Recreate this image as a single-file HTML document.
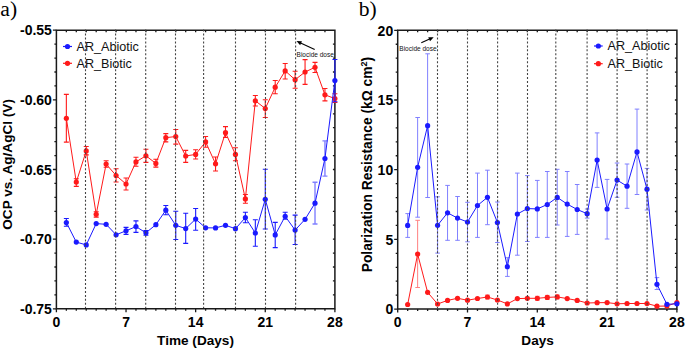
<!DOCTYPE html>
<html><head><meta charset="utf-8"><title>OCP and Polarization Resistance</title>
<style>
html,body{margin:0;padding:0;background:#fff;}
body{width:685px;height:349px;overflow:hidden;}
svg{display:block;}
text{font-family:"Liberation Sans",sans-serif;fill:#000;}
.tl{font-size:14px;font-weight:bold;}
.tt{font-size:13.6px;font-weight:bold;}
.tp{font-size:13.8px;font-weight:bold;}
.lg{font-size:12.6px;fill:#111;}
.an{font-size:6.5px;fill:#111;}
.pl{font-family:"Liberation Serif",serif;font-size:21.6px;}
</style></head><body>
<svg width="685" height="349" viewBox="0 0 685 349">
<rect width="685" height="349" fill="#fff"/>
<text x="0.3" y="16.3" class="pl">a)</text>
<text x="358.7" y="16.3" class="pl">b)</text>
<path d="M56.4 30.2V308.8H334.9V30.2Z" stroke="#1a1a1a" stroke-width="1.5" fill="none"/>
<path d="M52.9 30.2H56.4M54.4 44.13H56.4M334.9 44.13H332.9M54.4 58.06H56.4M334.9 58.06H332.9M54.4 71.99H56.4M334.9 71.99H332.9M54.4 85.92H56.4M334.9 85.92H332.9M52.9 99.85H56.4M334.9 99.85H332.9M54.4 113.78H56.4M334.9 113.78H332.9M54.4 127.71H56.4M334.9 127.71H332.9M54.4 141.64H56.4M334.9 141.64H332.9M54.4 155.57H56.4M334.9 155.57H332.9M52.9 169.5H56.4M334.9 169.5H332.9M54.4 183.43H56.4M334.9 183.43H332.9M54.4 197.36H56.4M334.9 197.36H332.9M54.4 211.29H56.4M334.9 211.29H332.9M54.4 225.22H56.4M334.9 225.22H332.9M52.9 239.15H56.4M334.9 239.15H332.9M54.4 253.08H56.4M334.9 253.08H332.9M54.4 267.01H56.4M334.9 267.01H332.9M54.4 280.94H56.4M334.9 280.94H332.9M54.4 294.87H56.4M334.9 294.87H332.9M52.9 308.8H56.4M56.4 308.8V312.3M66.35 308.8V310.8M66.35 30.2V32.2M76.29 308.8V310.8M76.29 30.2V32.2M86.24 308.8V310.8M86.24 30.2V32.2M96.19 308.8V310.8M96.19 30.2V32.2M106.13 308.8V310.8M106.13 30.2V32.2M116.08 308.8V310.8M116.08 30.2V32.2M126.03 308.8V312.3M126.03 30.2V32.2M135.97 308.8V310.8M135.97 30.2V32.2M145.92 308.8V310.8M145.92 30.2V32.2M155.86 308.8V310.8M155.86 30.2V32.2M165.81 308.8V310.8M165.81 30.2V32.2M175.76 308.8V310.8M175.76 30.2V32.2M185.7 308.8V310.8M185.7 30.2V32.2M195.65 308.8V312.3M195.65 30.2V32.2M205.6 308.8V310.8M205.6 30.2V32.2M215.54 308.8V310.8M215.54 30.2V32.2M225.49 308.8V310.8M225.49 30.2V32.2M235.44 308.8V310.8M235.44 30.2V32.2M245.38 308.8V310.8M245.38 30.2V32.2M255.33 308.8V310.8M255.33 30.2V32.2M265.27 308.8V312.3M265.27 30.2V32.2M275.22 308.8V310.8M275.22 30.2V32.2M285.17 308.8V310.8M285.17 30.2V32.2M295.11 308.8V310.8M295.11 30.2V32.2M305.06 308.8V310.8M305.06 30.2V32.2M315.01 308.8V310.8M315.01 30.2V32.2M324.95 308.8V310.8M324.95 30.2V32.2M334.9 308.8V312.3" stroke="#1a1a1a" stroke-width="1.3" fill="none"/>
<text x="51.9" y="35.45" text-anchor="end" class="tl">-0.55</text>
<text x="51.9" y="105.1" text-anchor="end" class="tl">-0.60</text>
<text x="51.9" y="174.75" text-anchor="end" class="tl">-0.65</text>
<text x="51.9" y="244.4" text-anchor="end" class="tl">-0.70</text>
<text x="51.9" y="314.05" text-anchor="end" class="tl">-0.75</text>
<text x="56.4" y="326.6" text-anchor="middle" class="tl">0</text>
<text x="126.03" y="326.6" text-anchor="middle" class="tl">7</text>
<text x="195.65" y="326.6" text-anchor="middle" class="tl">14</text>
<text x="265.27" y="326.6" text-anchor="middle" class="tl">21</text>
<text x="334.9" y="326.6" text-anchor="middle" class="tl">28</text>
<path d="M63 46.5H72" stroke="#1a1aff" stroke-width="1.2"/>
<circle cx="67.5" cy="46.5" r="2.6" fill="#1a1aff"/>
<path d="M63 63.3H72" stroke="#ff1a1a" stroke-width="1.2"/>
<circle cx="67.5" cy="63.3" r="2.6" fill="#ff1a1a"/>
<text x="76.5" y="50.6" class="lg">AR_Abiotic</text>
<text x="76.5" y="67.8" class="lg">AR_Biotic</text>
<path d="M66.35 94.4V142.1M63.85 94.4H68.85M63.85 142.1H68.85" stroke="#ff1a1a" stroke-width="1.1" fill="none"/>
<path d="M76.29 178.8V186.4M73.79 178.8H78.79M73.79 186.4H78.79" stroke="#ff1a1a" stroke-width="1.1" fill="none"/>
<path d="M86.24 146.5V154.9M83.74 146.5H88.74M83.74 154.9H88.74" stroke="#ff1a1a" stroke-width="1.1" fill="none"/>
<path d="M96.19 211.7V217.1M93.69 211.7H98.69M93.69 217.1H98.69" stroke="#ff1a1a" stroke-width="1.1" fill="none"/>
<path d="M106.13 160.7V167.3M103.63 160.7H108.63M103.63 167.3H108.63" stroke="#ff1a1a" stroke-width="1.1" fill="none"/>
<path d="M116.08 168.7V182M113.58 168.7H118.58M113.58 182H118.58" stroke="#ff1a1a" stroke-width="1.1" fill="none"/>
<path d="M126.03 178V190M123.53 178H128.53M123.53 190H128.53" stroke="#ff1a1a" stroke-width="1.1" fill="none"/>
<path d="M135.97 157.3V166.3M133.47 157.3H138.47M133.47 166.3H138.47" stroke="#ff1a1a" stroke-width="1.1" fill="none"/>
<path d="M145.92 149.2V162.4M143.42 149.2H148.42M143.42 162.4H148.42" stroke="#ff1a1a" stroke-width="1.1" fill="none"/>
<path d="M155.86 159.2V167.1M153.36 159.2H158.36M153.36 167.1H158.36" stroke="#ff1a1a" stroke-width="1.1" fill="none"/>
<path d="M165.81 133.6V141.9M163.31 133.6H168.31M163.31 141.9H168.31" stroke="#ff1a1a" stroke-width="1.1" fill="none"/>
<path d="M175.76 129.5V144.1M173.26 129.5H178.26M173.26 144.1H178.26" stroke="#ff1a1a" stroke-width="1.1" fill="none"/>
<path d="M185.7 150.4V162.4M183.2 150.4H188.2M183.2 162.4H188.2" stroke="#ff1a1a" stroke-width="1.1" fill="none"/>
<path d="M195.65 149.7V159M193.15 149.7H198.15M193.15 159H198.15" stroke="#ff1a1a" stroke-width="1.1" fill="none"/>
<path d="M205.6 136.5V147.3M203.1 136.5H208.1M203.1 147.3H208.1" stroke="#ff1a1a" stroke-width="1.1" fill="none"/>
<path d="M215.54 157V171M213.04 157H218.04M213.04 171H218.04" stroke="#ff1a1a" stroke-width="1.1" fill="none"/>
<path d="M225.49 126.6V137.5M222.99 126.6H227.99M222.99 137.5H227.99" stroke="#ff1a1a" stroke-width="1.1" fill="none"/>
<path d="M235.44 147.8V160.8M232.94 147.8H237.94M232.94 160.8H237.94" stroke="#ff1a1a" stroke-width="1.1" fill="none"/>
<path d="M245.38 194.5V203.3M242.88 194.5H247.88M242.88 203.3H247.88" stroke="#ff1a1a" stroke-width="1.1" fill="none"/>
<path d="M255.33 95.5V106M252.83 95.5H257.83M252.83 106H257.83" stroke="#ff1a1a" stroke-width="1.1" fill="none"/>
<path d="M265.27 99.8V117.5M262.77 99.8H267.77M262.77 117.5H267.77" stroke="#ff1a1a" stroke-width="1.1" fill="none"/>
<path d="M275.22 80.5V93.7M272.72 80.5H277.72M272.72 93.7H277.72" stroke="#ff1a1a" stroke-width="1.1" fill="none"/>
<path d="M285.17 63.5V79M282.67 63.5H287.67M282.67 79H287.67" stroke="#ff1a1a" stroke-width="1.1" fill="none"/>
<path d="M295.11 71.2V88.2M292.61 71.2H297.61M292.61 88.2H297.61" stroke="#ff1a1a" stroke-width="1.1" fill="none"/>
<path d="M305.06 59.6V84.4M302.56 59.6H307.56M302.56 84.4H307.56" stroke="#ff1a1a" stroke-width="1.1" fill="none"/>
<path d="M315.01 62.4V72.5M312.51 62.4H317.51M312.51 72.5H317.51" stroke="#ff1a1a" stroke-width="1.1" fill="none"/>
<path d="M324.95 88.5V100.9M322.45 88.5H327.45M322.45 100.9H327.45" stroke="#ff1a1a" stroke-width="1.1" fill="none"/>
<path d="M334.9 93.8V102.4M332.4 93.8H337.4M332.4 102.4H337.4" stroke="#ff1a1a" stroke-width="1.1" fill="none"/>
<polyline points="66.35,118.3 76.29,182.1 86.24,150.9 96.19,214.3 106.13,164.1 116.08,175.5 126.03,184 135.97,161.9 145.92,155.8 155.86,163.4 165.81,137.7 175.76,136.5 185.7,156 195.65,154.4 205.6,141.9 215.54,163.8 225.49,132.7 235.44,154.4 245.38,198.9 255.33,100.8 265.27,108.5 275.22,87.2 285.17,70.9 295.11,79.7 305.06,72 315.01,67.3 324.95,94.8 334.9,98.6" stroke="#ff1a1a" stroke-width="1.0" fill="none" stroke-linejoin="round"/>
<circle cx="66.35" cy="118.3" r="2.6" fill="#ff1a1a"/>
<circle cx="76.29" cy="182.1" r="2.6" fill="#ff1a1a"/>
<circle cx="86.24" cy="150.9" r="2.6" fill="#ff1a1a"/>
<circle cx="96.19" cy="214.3" r="2.6" fill="#ff1a1a"/>
<circle cx="106.13" cy="164.1" r="2.6" fill="#ff1a1a"/>
<circle cx="116.08" cy="175.5" r="2.6" fill="#ff1a1a"/>
<circle cx="126.03" cy="184" r="2.6" fill="#ff1a1a"/>
<circle cx="135.97" cy="161.9" r="2.6" fill="#ff1a1a"/>
<circle cx="145.92" cy="155.8" r="2.6" fill="#ff1a1a"/>
<circle cx="155.86" cy="163.4" r="2.6" fill="#ff1a1a"/>
<circle cx="165.81" cy="137.7" r="2.6" fill="#ff1a1a"/>
<circle cx="175.76" cy="136.5" r="2.6" fill="#ff1a1a"/>
<circle cx="185.7" cy="156" r="2.6" fill="#ff1a1a"/>
<circle cx="195.65" cy="154.4" r="2.6" fill="#ff1a1a"/>
<circle cx="205.6" cy="141.9" r="2.6" fill="#ff1a1a"/>
<circle cx="215.54" cy="163.8" r="2.6" fill="#ff1a1a"/>
<circle cx="225.49" cy="132.7" r="2.6" fill="#ff1a1a"/>
<circle cx="235.44" cy="154.4" r="2.6" fill="#ff1a1a"/>
<circle cx="245.38" cy="198.9" r="2.6" fill="#ff1a1a"/>
<circle cx="255.33" cy="100.8" r="2.6" fill="#ff1a1a"/>
<circle cx="265.27" cy="108.5" r="2.6" fill="#ff1a1a"/>
<circle cx="275.22" cy="87.2" r="2.6" fill="#ff1a1a"/>
<circle cx="285.17" cy="70.9" r="2.6" fill="#ff1a1a"/>
<circle cx="295.11" cy="79.7" r="2.6" fill="#ff1a1a"/>
<circle cx="305.06" cy="72" r="2.6" fill="#ff1a1a"/>
<circle cx="315.01" cy="67.3" r="2.6" fill="#ff1a1a"/>
<circle cx="324.95" cy="94.8" r="2.6" fill="#ff1a1a"/>
<circle cx="334.9" cy="98.6" r="2.6" fill="#ff1a1a"/>
<path d="M66.35 218.5V226.2M63.85 218.5H68.85M63.85 226.2H68.85" stroke="#1a1aff" stroke-width="1.1" fill="none"/>
<path d="M126.03 227.4V234.4M123.53 227.4H128.53M123.53 234.4H128.53" stroke="#1a1aff" stroke-width="1.1" fill="none"/>
<path d="M135.97 220.9V232.4M133.47 220.9H138.47M133.47 232.4H138.47" stroke="#1a1aff" stroke-width="1.1" fill="none"/>
<path d="M145.92 230.5V235.2M143.42 230.5H148.42M143.42 235.2H148.42" stroke="#1a1aff" stroke-width="1.1" fill="none"/>
<path d="M165.81 205.5V214.8M163.31 205.5H168.31M163.31 214.8H168.31" stroke="#1a1aff" stroke-width="1.1" fill="none"/>
<path d="M175.76 211.2V239.5M173.26 211.2H178.26M173.26 239.5H178.26" stroke="#1a1aff" stroke-width="1.1" fill="none"/>
<path d="M185.7 213.2V243.4M183.2 213.2H188.2M183.2 243.4H188.2" stroke="#1a1aff" stroke-width="1.1" fill="none"/>
<path d="M195.65 208.5V230.3M193.15 208.5H198.15M193.15 230.3H198.15" stroke="#1a1aff" stroke-width="1.1" fill="none"/>
<path d="M245.38 212.3V222.8M242.88 212.3H247.88M242.88 222.8H247.88" stroke="#1a1aff" stroke-width="1.1" fill="none"/>
<path d="M255.33 219.7V246.3M252.83 219.7H257.83M252.83 246.3H257.83" stroke="#1a1aff" stroke-width="1.1" fill="none"/>
<path d="M265.27 169.3V229M262.77 169.3H267.77M262.77 229H267.77" stroke="#1a1aff" stroke-width="1.1" fill="none"/>
<path d="M275.22 222.4V247.6M272.72 222.4H277.72M272.72 247.6H277.72" stroke="#1a1aff" stroke-width="1.1" fill="none"/>
<path d="M285.17 212.3V219.3M282.67 212.3H287.67M282.67 219.3H287.67" stroke="#1a1aff" stroke-width="1.1" fill="none"/>
<path d="M295.11 215.1V244.5M292.61 215.1H297.61M292.61 244.5H297.61" stroke="#1a1aff" stroke-width="1.1" fill="none"/>
<path d="M315.01 182.2V224M312.51 182.2H317.51M312.51 224H317.51" stroke="#8080ff" stroke-width="1.4" fill="none"/>
<path d="M324.95 140.9V176.1M322.45 140.9H327.45M322.45 176.1H327.45" stroke="#8080ff" stroke-width="1.4" fill="none"/>
<path d="M334.9 59.5V101.7M332.4 59.5H337.4M332.4 101.7H337.4" stroke="#1a1aff" stroke-width="1.1" fill="none"/>
<polyline points="66.35,222.5 76.29,242.1 86.24,244.9 96.19,223.6 106.13,224.3 116.08,234.8 126.03,230.8 135.97,226.6 145.92,232.8 155.86,224.7 165.81,210.2 175.76,225.3 185.7,228.6 195.65,219.1 205.6,227.8 215.54,227.9 225.49,225.3 235.44,228.7 245.38,217.6 255.33,233 265.27,199.3 275.22,234.9 285.17,216.3 295.11,230.1 305.06,219.3 315.01,203.2 324.95,158.5 334.9,80.6" stroke="#1a1aff" stroke-width="1.0" fill="none" stroke-linejoin="round"/>
<circle cx="66.35" cy="222.5" r="2.6" fill="#1a1aff"/>
<circle cx="76.29" cy="242.1" r="2.6" fill="#1a1aff"/>
<circle cx="86.24" cy="244.9" r="2.6" fill="#1a1aff"/>
<circle cx="96.19" cy="223.6" r="2.6" fill="#1a1aff"/>
<circle cx="106.13" cy="224.3" r="2.6" fill="#1a1aff"/>
<circle cx="116.08" cy="234.8" r="2.6" fill="#1a1aff"/>
<circle cx="126.03" cy="230.8" r="2.6" fill="#1a1aff"/>
<circle cx="135.97" cy="226.6" r="2.6" fill="#1a1aff"/>
<circle cx="145.92" cy="232.8" r="2.6" fill="#1a1aff"/>
<circle cx="155.86" cy="224.7" r="2.6" fill="#1a1aff"/>
<circle cx="165.81" cy="210.2" r="2.6" fill="#1a1aff"/>
<circle cx="175.76" cy="225.3" r="2.6" fill="#1a1aff"/>
<circle cx="185.7" cy="228.6" r="2.6" fill="#1a1aff"/>
<circle cx="195.65" cy="219.1" r="2.6" fill="#1a1aff"/>
<circle cx="205.6" cy="227.8" r="2.6" fill="#1a1aff"/>
<circle cx="215.54" cy="227.9" r="2.6" fill="#1a1aff"/>
<circle cx="225.49" cy="225.3" r="2.6" fill="#1a1aff"/>
<circle cx="235.44" cy="228.7" r="2.6" fill="#1a1aff"/>
<circle cx="245.38" cy="217.6" r="2.6" fill="#1a1aff"/>
<circle cx="255.33" cy="233" r="2.6" fill="#1a1aff"/>
<circle cx="265.27" cy="199.3" r="2.6" fill="#1a1aff"/>
<circle cx="275.22" cy="234.9" r="2.6" fill="#1a1aff"/>
<circle cx="285.17" cy="216.3" r="2.6" fill="#1a1aff"/>
<circle cx="295.11" cy="230.1" r="2.6" fill="#1a1aff"/>
<circle cx="305.06" cy="219.3" r="2.6" fill="#1a1aff"/>
<circle cx="315.01" cy="203.2" r="2.6" fill="#1a1aff"/>
<circle cx="324.95" cy="158.5" r="2.6" fill="#1a1aff"/>
<circle cx="334.9" cy="80.6" r="2.6" fill="#1a1aff"/>
<line x1="85.5" y1="29.56" x2="85.5" y2="308.1" stroke="#444" stroke-width="1.1" stroke-dasharray="2 1.96"/>
<line x1="115.6" y1="29.56" x2="115.6" y2="308.1" stroke="#444" stroke-width="1.1" stroke-dasharray="2 1.96"/>
<line x1="145.7" y1="29.56" x2="145.7" y2="308.1" stroke="#444" stroke-width="1.1" stroke-dasharray="2 1.96"/>
<line x1="175.5" y1="29.56" x2="175.5" y2="308.1" stroke="#444" stroke-width="1.1" stroke-dasharray="2 1.96"/>
<line x1="203.6" y1="29.56" x2="203.6" y2="308.1" stroke="#444" stroke-width="1.1" stroke-dasharray="2 1.96"/>
<line x1="235.5" y1="29.56" x2="235.5" y2="308.1" stroke="#444" stroke-width="1.1" stroke-dasharray="2 1.96"/>
<line x1="265.5" y1="29.56" x2="265.5" y2="308.1" stroke="#444" stroke-width="1.1" stroke-dasharray="2 1.96"/>
<line x1="295.6" y1="29.56" x2="295.6" y2="308.1" stroke="#444" stroke-width="1.1" stroke-dasharray="2 1.96"/>
<text x="296.6" y="57.0" class="an">Biocide dose</text>
<path d="M314.7 49.4L300.59 42.97" stroke="#000" stroke-width="1.1"/>
<path d="M296.5 41.1L301.96 41.17L300.14 45.18Z" fill="#000"/>
<text transform="translate(11.9 164.4) rotate(-90)" text-anchor="middle" class="tt">OCP vs. Ag/AgCl (V)</text>
<text x="195.5" y="344.5" text-anchor="middle" class="tt">Time (Days)</text>
<path d="M397.7 30.3V309.1H676.9V30.3Z" stroke="#1a1a1a" stroke-width="1.5" fill="none"/>
<path d="M394.2 30.3H397.7M395.7 44.24H397.7M676.9 44.24H674.9M395.7 58.18H397.7M676.9 58.18H674.9M395.7 72.12H397.7M676.9 72.12H674.9M395.7 86.06H397.7M676.9 86.06H674.9M394.2 100H397.7M676.9 100H674.9M395.7 113.94H397.7M676.9 113.94H674.9M395.7 127.88H397.7M676.9 127.88H674.9M395.7 141.82H397.7M676.9 141.82H674.9M395.7 155.76H397.7M676.9 155.76H674.9M394.2 169.7H397.7M676.9 169.7H674.9M395.7 183.64H397.7M676.9 183.64H674.9M395.7 197.58H397.7M676.9 197.58H674.9M395.7 211.52H397.7M676.9 211.52H674.9M395.7 225.46H397.7M676.9 225.46H674.9M394.2 239.4H397.7M676.9 239.4H674.9M395.7 253.34H397.7M676.9 253.34H674.9M395.7 267.28H397.7M676.9 267.28H674.9M395.7 281.22H397.7M676.9 281.22H674.9M395.7 295.16H397.7M676.9 295.16H674.9M394.2 309.1H397.7M397.7 309.1V312.6M407.67 309.1V311.1M407.67 30.3V32.3M417.64 309.1V311.1M417.64 30.3V32.3M427.61 309.1V311.1M427.61 30.3V32.3M437.59 309.1V311.1M437.59 30.3V32.3M447.56 309.1V311.1M447.56 30.3V32.3M457.53 309.1V311.1M457.53 30.3V32.3M467.5 309.1V312.6M467.5 30.3V32.3M477.47 309.1V311.1M477.47 30.3V32.3M487.44 309.1V311.1M487.44 30.3V32.3M497.41 309.1V311.1M497.41 30.3V32.3M507.39 309.1V311.1M507.39 30.3V32.3M517.36 309.1V311.1M517.36 30.3V32.3M527.33 309.1V311.1M527.33 30.3V32.3M537.3 309.1V312.6M537.3 30.3V32.3M547.27 309.1V311.1M547.27 30.3V32.3M557.24 309.1V311.1M557.24 30.3V32.3M567.21 309.1V311.1M567.21 30.3V32.3M577.19 309.1V311.1M577.19 30.3V32.3M587.16 309.1V311.1M587.16 30.3V32.3M597.13 309.1V311.1M597.13 30.3V32.3M607.1 309.1V312.6M607.1 30.3V32.3M617.07 309.1V311.1M617.07 30.3V32.3M627.04 309.1V311.1M627.04 30.3V32.3M637.01 309.1V311.1M637.01 30.3V32.3M646.99 309.1V311.1M646.99 30.3V32.3M656.96 309.1V311.1M656.96 30.3V32.3M666.93 309.1V311.1M666.93 30.3V32.3M676.9 309.1V312.6" stroke="#1a1a1a" stroke-width="1.3" fill="none"/>
<text x="393.2" y="35.55" text-anchor="end" class="tl">20</text>
<text x="393.2" y="105.25" text-anchor="end" class="tl">15</text>
<text x="393.2" y="174.95" text-anchor="end" class="tl">10</text>
<text x="393.2" y="244.65" text-anchor="end" class="tl">5</text>
<text x="393.2" y="314.35" text-anchor="end" class="tl">0</text>
<text x="397.7" y="326.7" text-anchor="middle" class="tl">0</text>
<text x="467.5" y="326.7" text-anchor="middle" class="tl">7</text>
<text x="537.3" y="326.7" text-anchor="middle" class="tl">14</text>
<text x="607.1" y="326.7" text-anchor="middle" class="tl">21</text>
<text x="676.9" y="326.7" text-anchor="middle" class="tl">28</text>
<path d="M594 46H602.7" stroke="#1a1aff" stroke-width="1.2"/>
<circle cx="598.35" cy="46" r="2.6" fill="#1a1aff"/>
<path d="M594 63.7H602.7" stroke="#ff1a1a" stroke-width="1.2"/>
<circle cx="598.35" cy="63.7" r="2.6" fill="#ff1a1a"/>
<text x="607.5" y="50.3" class="lg">AR_Abiotic</text>
<text x="607.5" y="68" class="lg">AR_Biotic</text>
<path d="M417.64 220.3V287.5M415.34 220.3H419.94M415.34 287.5H419.94" stroke="#ff8080" stroke-width="1.0" fill="none"/>
<path d="M487.44 295V299M485.14 295H489.74M485.14 299H489.74" stroke="#ff8080" stroke-width="1.0" fill="none"/>
<path d="M537.3 296.3V300.3M535 296.3H539.6M535 300.3H539.6" stroke="#ff8080" stroke-width="1.0" fill="none"/>
<path d="M547.27 295.4V299.4M544.97 295.4H549.57M544.97 299.4H549.57" stroke="#ff8080" stroke-width="1.0" fill="none"/>
<path d="M557.24 294.9V298.9M554.94 294.9H559.54M554.94 298.9H559.54" stroke="#ff8080" stroke-width="1.0" fill="none"/>
<polyline points="407.67,304.5 417.64,254.1 427.61,292.3 437.59,304 447.56,300.4 457.53,298.3 467.5,300.2 477.47,298.5 487.44,297 497.41,300 507.39,303.9 517.36,298.6 527.33,298.3 537.3,298.3 547.27,297.4 557.24,296.9 567.21,298.6 577.19,300.4 587.16,303 597.13,302.7 607.1,302.6 617.07,303.8 627.04,303.5 637.01,303.5 646.99,303.5 656.96,306.2 666.93,306 676.9,302.6" stroke="#ff1a1a" stroke-width="1.0" fill="none" stroke-linejoin="round"/>
<circle cx="407.67" cy="304.5" r="2.6" fill="#ff1a1a"/>
<circle cx="417.64" cy="254.1" r="2.6" fill="#ff1a1a"/>
<circle cx="427.61" cy="292.3" r="2.6" fill="#ff1a1a"/>
<circle cx="437.59" cy="304" r="2.6" fill="#ff1a1a"/>
<circle cx="447.56" cy="300.4" r="2.6" fill="#ff1a1a"/>
<circle cx="457.53" cy="298.3" r="2.6" fill="#ff1a1a"/>
<circle cx="467.5" cy="300.2" r="2.6" fill="#ff1a1a"/>
<circle cx="477.47" cy="298.5" r="2.6" fill="#ff1a1a"/>
<circle cx="487.44" cy="297" r="2.6" fill="#ff1a1a"/>
<circle cx="497.41" cy="300" r="2.6" fill="#ff1a1a"/>
<circle cx="507.39" cy="303.9" r="2.6" fill="#ff1a1a"/>
<circle cx="517.36" cy="298.6" r="2.6" fill="#ff1a1a"/>
<circle cx="527.33" cy="298.3" r="2.6" fill="#ff1a1a"/>
<circle cx="537.3" cy="298.3" r="2.6" fill="#ff1a1a"/>
<circle cx="547.27" cy="297.4" r="2.6" fill="#ff1a1a"/>
<circle cx="557.24" cy="296.9" r="2.6" fill="#ff1a1a"/>
<circle cx="567.21" cy="298.6" r="2.6" fill="#ff1a1a"/>
<circle cx="577.19" cy="300.4" r="2.6" fill="#ff1a1a"/>
<circle cx="587.16" cy="303" r="2.6" fill="#ff1a1a"/>
<circle cx="597.13" cy="302.7" r="2.6" fill="#ff1a1a"/>
<circle cx="607.1" cy="302.6" r="2.6" fill="#ff1a1a"/>
<circle cx="617.07" cy="303.8" r="2.6" fill="#ff1a1a"/>
<circle cx="627.04" cy="303.5" r="2.6" fill="#ff1a1a"/>
<circle cx="637.01" cy="303.5" r="2.6" fill="#ff1a1a"/>
<circle cx="646.99" cy="303.5" r="2.6" fill="#ff1a1a"/>
<circle cx="656.96" cy="306.2" r="2.6" fill="#ff1a1a"/>
<circle cx="666.93" cy="306" r="2.6" fill="#ff1a1a"/>
<circle cx="676.9" cy="302.6" r="2.6" fill="#ff1a1a"/>
<path d="M407.67 213.6V237.4M405.37 213.6H409.97M405.37 237.4H409.97" stroke="#8080ff" stroke-width="1.0" fill="none"/>
<path d="M417.64 117.5V217.2M415.34 117.5H419.94M415.34 217.2H419.94" stroke="#8080ff" stroke-width="1.0" fill="none"/>
<path d="M427.61 53.8V197.5M425.31 53.8H429.91M425.31 197.5H429.91" stroke="#8080ff" stroke-width="1.0" fill="none"/>
<path d="M437.59 196.8V253.1M435.29 196.8H439.89M435.29 253.1H439.89" stroke="#8080ff" stroke-width="1.0" fill="none"/>
<path d="M447.56 185.4V240.3M445.26 185.4H449.86M445.26 240.3H449.86" stroke="#8080ff" stroke-width="1.0" fill="none"/>
<path d="M457.53 196.5V240.3M455.23 196.5H459.83M455.23 240.3H459.83" stroke="#8080ff" stroke-width="1.0" fill="none"/>
<path d="M467.5 202.3V241.8M465.2 202.3H469.8M465.2 241.8H469.8" stroke="#8080ff" stroke-width="1.0" fill="none"/>
<path d="M477.47 173.1V237.4M475.17 173.1H479.77M475.17 237.4H479.77" stroke="#8080ff" stroke-width="1.0" fill="none"/>
<path d="M487.44 170.2V224.7M485.14 170.2H489.74M485.14 224.7H489.74" stroke="#8080ff" stroke-width="1.0" fill="none"/>
<path d="M497.41 202V242.5M495.11 202H499.71M495.11 242.5H499.71" stroke="#8080ff" stroke-width="1.0" fill="none"/>
<path d="M507.39 257.7V276.4M505.09 257.7H509.69M505.09 276.4H509.69" stroke="#8080ff" stroke-width="1.0" fill="none"/>
<path d="M517.36 173.1V255.2M515.06 173.1H519.66M515.06 255.2H519.66" stroke="#8080ff" stroke-width="1.0" fill="none"/>
<path d="M527.33 175.6V241.5M525.03 175.6H529.63M525.03 241.5H529.63" stroke="#8080ff" stroke-width="1.0" fill="none"/>
<path d="M537.3 180.4V237.4M535 180.4H539.6M535 237.4H539.6" stroke="#8080ff" stroke-width="1.0" fill="none"/>
<path d="M547.27 171.5V237.4M544.97 171.5H549.57M544.97 237.4H549.57" stroke="#8080ff" stroke-width="1.0" fill="none"/>
<path d="M557.24 169.3V225M554.94 169.3H559.54M554.94 225H559.54" stroke="#8080ff" stroke-width="1.0" fill="none"/>
<path d="M567.21 171.5V236.4M564.91 171.5H569.51M564.91 236.4H569.51" stroke="#8080ff" stroke-width="1.0" fill="none"/>
<path d="M577.19 184.5V234.4M574.89 184.5H579.49M574.89 234.4H579.49" stroke="#8080ff" stroke-width="1.0" fill="none"/>
<path d="M587.16 209V218.1M584.86 209H589.46M584.86 218.1H589.46" stroke="#8080ff" stroke-width="1.0" fill="none"/>
<path d="M597.13 132.9V187.4M594.83 132.9H599.43M594.83 187.4H599.43" stroke="#8080ff" stroke-width="1.0" fill="none"/>
<path d="M607.1 179.4V239M604.8 179.4H609.4M604.8 239H609.4" stroke="#8080ff" stroke-width="1.0" fill="none"/>
<path d="M617.07 163V197.3M614.77 163H619.37M614.77 197.3H619.37" stroke="#8080ff" stroke-width="1.0" fill="none"/>
<path d="M627.04 164V208.3M624.74 164H629.34M624.74 208.3H629.34" stroke="#8080ff" stroke-width="1.0" fill="none"/>
<path d="M637.01 109.1V194.5M634.71 109.1H639.31M634.71 194.5H639.31" stroke="#8080ff" stroke-width="1.0" fill="none"/>
<path d="M646.99 168.4V210M644.69 168.4H649.29M644.69 210H649.29" stroke="#8080ff" stroke-width="1.0" fill="none"/>
<path d="M656.96 277.6V289.5M654.66 277.6H659.26M654.66 289.5H659.26" stroke="#8080ff" stroke-width="1.0" fill="none"/>
<polyline points="407.67,225.4 417.64,167.3 427.61,125.7 437.59,225.3 447.56,212.8 457.53,218.1 467.5,222 477.47,205.5 487.44,197.3 497.41,222.5 507.39,266.7 517.36,214 527.33,208.6 537.3,208.9 547.27,204.5 557.24,197.4 567.21,204.1 577.19,209.5 587.16,213.7 597.13,160.1 607.1,209 617.07,180.1 627.04,186.2 637.01,151.9 646.99,189.2 656.96,284.3 666.93,304.3 676.9,303.8" stroke="#1a1aff" stroke-width="1.0" fill="none" stroke-linejoin="round"/>
<circle cx="407.67" cy="225.4" r="2.6" fill="#1a1aff"/>
<circle cx="417.64" cy="167.3" r="2.6" fill="#1a1aff"/>
<circle cx="427.61" cy="125.7" r="2.6" fill="#1a1aff"/>
<circle cx="437.59" cy="225.3" r="2.6" fill="#1a1aff"/>
<circle cx="447.56" cy="212.8" r="2.6" fill="#1a1aff"/>
<circle cx="457.53" cy="218.1" r="2.6" fill="#1a1aff"/>
<circle cx="467.5" cy="222" r="2.6" fill="#1a1aff"/>
<circle cx="477.47" cy="205.5" r="2.6" fill="#1a1aff"/>
<circle cx="487.44" cy="197.3" r="2.6" fill="#1a1aff"/>
<circle cx="497.41" cy="222.5" r="2.6" fill="#1a1aff"/>
<circle cx="507.39" cy="266.7" r="2.6" fill="#1a1aff"/>
<circle cx="517.36" cy="214" r="2.6" fill="#1a1aff"/>
<circle cx="527.33" cy="208.6" r="2.6" fill="#1a1aff"/>
<circle cx="537.3" cy="208.9" r="2.6" fill="#1a1aff"/>
<circle cx="547.27" cy="204.5" r="2.6" fill="#1a1aff"/>
<circle cx="557.24" cy="197.4" r="2.6" fill="#1a1aff"/>
<circle cx="567.21" cy="204.1" r="2.6" fill="#1a1aff"/>
<circle cx="577.19" cy="209.5" r="2.6" fill="#1a1aff"/>
<circle cx="587.16" cy="213.7" r="2.6" fill="#1a1aff"/>
<circle cx="597.13" cy="160.1" r="2.6" fill="#1a1aff"/>
<circle cx="607.1" cy="209" r="2.6" fill="#1a1aff"/>
<circle cx="617.07" cy="180.1" r="2.6" fill="#1a1aff"/>
<circle cx="627.04" cy="186.2" r="2.6" fill="#1a1aff"/>
<circle cx="637.01" cy="151.9" r="2.6" fill="#1a1aff"/>
<circle cx="646.99" cy="189.2" r="2.6" fill="#1a1aff"/>
<circle cx="656.96" cy="284.3" r="2.6" fill="#1a1aff"/>
<circle cx="666.93" cy="304.3" r="2.6" fill="#1a1aff"/>
<circle cx="676.9" cy="303.8" r="2.6" fill="#1a1aff"/>
<line x1="437.5" y1="29.56" x2="437.5" y2="308.4" stroke="#444" stroke-width="1.1" stroke-dasharray="2 1.96"/>
<line x1="467.5" y1="29.56" x2="467.5" y2="308.4" stroke="#444" stroke-width="1.1" stroke-dasharray="2 1.96"/>
<line x1="497.6" y1="29.56" x2="497.6" y2="308.4" stroke="#444" stroke-width="1.1" stroke-dasharray="2 1.96"/>
<line x1="527.5" y1="29.56" x2="527.5" y2="308.4" stroke="#444" stroke-width="1.1" stroke-dasharray="2 1.96"/>
<line x1="555.8" y1="29.56" x2="555.8" y2="308.4" stroke="#444" stroke-width="1.1" stroke-dasharray="2 1.96"/>
<line x1="587.1" y1="29.56" x2="587.1" y2="308.4" stroke="#444" stroke-width="1.1" stroke-dasharray="2 1.96"/>
<line x1="617.1" y1="29.56" x2="617.1" y2="308.4" stroke="#444" stroke-width="1.1" stroke-dasharray="2 1.96"/>
<line x1="647.1" y1="29.56" x2="647.1" y2="308.4" stroke="#444" stroke-width="1.1" stroke-dasharray="2 1.96"/>
<text x="399.3" y="50.9" class="an">Biocide dose</text>
<path d="M421.3 42.8L429.59 39.12" stroke="#000" stroke-width="1.1"/>
<path d="M433.7 37.3L430.02 41.34L428.24 37.32Z" fill="#000"/>
<text transform="translate(372.2 164.6) rotate(-90)" text-anchor="middle" class="tp">Polarization Resistance (k&#937; cm<tspan dy="-5" font-size="9">2</tspan><tspan dy="5">)</tspan></text>
<text x="537.6" y="344.9" text-anchor="middle" class="tt">Days</text>
</svg></body></html>
